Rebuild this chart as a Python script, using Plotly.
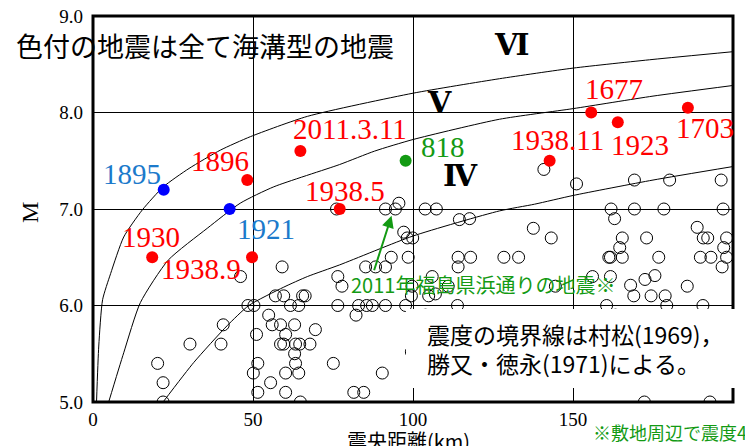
import plotly.graph_objects as go

# open circles: other earthquakes (epicentral distance km, magnitude)
circle_dist = [20.2, 21.9, 21.9, 30.3, 40.0, 40.7, 46.1, 48.4, 50.3, 51.1, 51.5, 50.1, 51.5,
               54.9, 55.5, 56.0, 57.0, 58.6, 58.6, 59.1, 59.6, 59.6, 60.2, 60.2, 60.2, 61.7,
               63.0, 63.0, 63.3, 63.3, 64.3, 64.3, 64.6, 64.8, 65.5, 66.3, 67.8, 69.5, 75.1,
               76.5, 76.5, 77.8, 76.1, 82.2, 83.0, 85.5, 87.3, 91.4, 97.7, 81.5, 84.6, 90.4,
               85.2, 88.3, 91.4, 93.2, 98.5, 91.4, 94.5, 95.6, 97.1, 98.2, 99.9, 103.8, 107.3,
               114.5, 117.7, 114.1, 118.0, 114.1, 128.4, 133.0, 137.6, 140.9, 143.2, 144.5,
               113.9, 99.5, 99.7, 106.0, 107.0, 111.0, 99.5, 103.9, 104.9, 163.3,
               151.1, 169.2, 180.2, 196.3, 161.9, 169.2, 178.4, 196.9, 163.0, 188.8, 165.4,
               173.0, 190.7, 192.1, 198.0, 164.6, 197.1, 161.2, 161.7, 165.4, 176.8, 189.8,
               193.1, 198.0, 196.6, 156.1, 161.7, 172.5, 175.6, 168.0, 185.7, 169.0, 174.4,
               178.8, 160.5, 179.3, 190.6, 172.3, 192.8]
circle_mag = [5.4, 5.2, 5.0, 5.6, 5.6, 5.8, 6.3, 6.0, 6.0, 5.7, 5.4, 5.3, 5.1,
              5.9, 5.2, 5.8, 6.1, 5.8, 5.6, 6.4, 6.1, 5.6, 5.7, 5.3, 5.1, 6.0,
              5.8, 5.5, 5.6, 5.4, 6.0, 5.3, 5.6, 5.0, 6.1, 6.1, 5.6, 5.75, 5.4,
              6.3, 6.0, 6.2, 7.0, 5.9, 6.0, 6.0, 6.0, 6.0, 6.0, 5.1, 5.1, 5.3,
              6.4, 6.4, 6.4, 6.5, 6.5, 7.0, 7.0, 7.06, 6.76, 6.7, 6.7, 7.0, 7.0,
              6.89, 6.9, 6.5, 6.5, 6.4, 6.5, 6.5, 6.8, 7.41, 6.7, 6.2,
              6.0, 6.1, 6.2, 6.3, 6.12, 6.2, 5.52, 5.9, 6.1, 5.9,
              7.26, 7.3, 7.3, 7.3, 7.0, 7.0, 7.0, 7.0, 6.9, 6.81, 6.7,
              6.7, 6.7, 6.7, 6.7, 6.6, 6.6, 6.5, 6.5, 6.5, 6.5, 6.5,
              6.5, 6.5, 6.4, 6.3, 6.3, 6.27, 6.31, 6.21, 6.2, 6.1, 6.1,
              6.1, 6.0, 6.0, 6.0, 5.0, 5.0]

# coloured: trench-type earthquakes
event_names = ["1896", "1930", "1938.9", "2011.3.11", "1938.5", "1938.11", "1677", "1923", "1703",
               "1895", "1921", "818"]
event_dist = [48.2, 18.5, 49.7, 64.8, 77.1, 142.7, 155.7, 164.0, 185.9, 22.1, 42.7, 97.7]
event_mag = [7.3, 6.5, 6.5, 7.6, 7.0, 7.5, 8.0, 7.9, 8.05, 7.2, 7.0, 7.5]
event_color = ["#ff0000"] * 9 + ["#0000ff", "#0000ff", "#139a13"]
label_color = ["#ff0000"] * 9 + ["#1c7acb", "#1c7acb", "#139a13"]
label_x = [39.8, 18.0, 33.9, 80.2, 78.6, 145.2, 162.7, 170.8, 191.4, 12.3, 54.2, 109.5]
label_y = [7.50, 6.71, 6.38, 7.83, 7.19, 7.72, 8.24, 7.66, 7.84, 7.36, 6.79, 7.64]

# intensity boundary curves (Muramatsu / Katsumata-Tokunaga)
vi_dist = [1.1, 1.8, 3.0, 5.5, 9.6, 15.4, 22.0, 30.0, 39.8, 49.2, 67.0, 100.0, 127.0, 150.0, 175.0, 200.0]
vi_mag = [5.0, 5.58, 6.06, 6.33, 6.71, 6.99, 7.23, 7.42, 7.61, 7.75, 7.96, 8.2, 8.35, 8.46, 8.55, 8.63]
v_dist = [4.9, 9.6, 14.8, 23.5, 35.7, 46.0, 56.5, 77.0, 88.0, 100.0, 127.0, 150.0, 175.0, 200.0]
v_mag = [5.0, 5.51, 6.03, 6.47, 6.8, 7.06, 7.23, 7.46, 7.6, 7.72, 7.93, 8.04, 8.17, 8.28]
iv_dist = [21.9, 31.5, 41.9, 48.7, 59.6, 67.0, 77.0, 100.0, 127.0, 138.0, 150.0, 175.0, 200.0]
iv_mag = [5.0, 5.41, 5.79, 6.0, 6.19, 6.3, 6.42, 6.72, 6.98, 7.05, 7.14, 7.3, 7.44]

x_ticks = [0, 50, 100, 150, 200]
y_ticks = [5, 6, 7, 8, 9]
y_ticktext = ["5.0", "6.0", "7.0", "8.0", "9.0"]

SERIF = "Liberation Serif"
CJK = "Noto Sans CJK JP"
GREEN = "#139a13"


def px_note(fig, px, py, text, size, color, family=CJK, xanchor="left", angle=0):
    """Text placed by window pixel (plot area spans x 93-733, y 16-402)."""
    fig.add_annotation(xref="paper", yref="paper", x=(px - 93) / 640, y=(402 - py) / 386,
                       xanchor=xanchor, yanchor="middle", text=text, textangle=angle,
                       showarrow=False, font=dict(family=family, size=size, color=color))


fig = go.Figure()
for xs, ys in [(vi_dist, vi_mag), (v_dist, v_mag), (iv_dist, iv_mag)]:
    fig.add_trace(go.Scatter(x=xs, y=ys, mode="lines",
                             line=dict(color="black", width=1, shape="spline", smoothing=0.6),
                             hoverinfo="skip"))

fig.add_trace(go.Scatter(x=circle_dist, y=circle_mag, mode="markers",
                         marker=dict(symbol="circle-open", size=12, color="black", line=dict(width=1))))
fig.add_trace(go.Scatter(x=event_dist, y=event_mag, mode="markers",
                         marker=dict(size=12, color=event_color)))

for name, lx, ly, c in zip(event_names, label_x, label_y, label_color):
    fig.add_annotation(x=lx, y=ly, text=name, showarrow=False,
                       font=dict(family=SERIF, size=29, color=c))

# intensity region labels
for txt, lx, ly in [("Ⅵ", 131, 8.70), ("Ⅴ", 108.3, 8.10), ("Ⅳ", 114.8, 7.35)]:
    fig.add_annotation(x=lx, y=ly, text="<b>" + txt + "</b>", showarrow=False,
                       font=dict(family="DejaVu Serif, " + CJK, size=30, color="black"))

# 2011 Fukushima Hamadori arrow
fig.add_annotation(x=93.3, y=6.93, ax=87.7, ay=6.35, axref="x", ayref="y", text="",
                   showarrow=True, arrowhead=2, arrowsize=1.2, arrowwidth=2, arrowcolor=GREEN)
px_note(fig, 349, 284, "2011年福島県浜通りの地震※", 20, GREEN)

# frame, then white note box over it
fig.add_shape(type="rect", xref="paper", yref="paper", x0=0, x1=1, y0=0, y1=1,
              line=dict(color="black", width=3), layer="above")
fig.add_shape(type="rect", xref="paper", yref="paper", x0=(406 - 93) / 640, x1=1.03,
              y0=(402 - 388) / 386, y1=(402 - 309) / 386,
              fillcolor="white", line=dict(width=0), layer="above")
px_note(fig, 425, 334, "震度の境界線は村松(1969)，", 23, "black")
px_note(fig, 425, 363, "勝又・徳永(1971)による。", 23, "black")

px_note(fig, 14, 45, "色付の地震は全て海溝型の地震", 27, "black")
px_note(fig, 591, 432, "※敷地周辺で震度4以上を観測した地震", 18, GREEN)
px_note(fig, 408, 441, "震央距離(km)", 20, "black", xanchor="center")
px_note(fig, 30, 213, "M", 24, "black", family=SERIF, xanchor="center", angle=-90)

fig.update_xaxes(range=[0, 200], tickvals=x_ticks, showgrid=True, gridcolor="black", gridwidth=1,
                 showline=False, zeroline=False, automargin=False,
                 ticks="", ticklabelstandoff=4, tickfont=dict(family=SERIF, size=19, color="black"))
fig.update_yaxes(range=[5, 9], tickvals=y_ticks, ticktext=y_ticktext, showgrid=True,
                 gridcolor="black", gridwidth=1, showline=False, zeroline=False, automargin=False,
                 ticks="", ticklabelstandoff=9,
                 tickfont=dict(family=SERIF, size=19, color="black"))
fig.update_layout(width=745, height=446, autosize=False, showlegend=False,
                  margin=dict(l=93, r=12, t=16, b=44),
                  plot_bgcolor="white", paper_bgcolor="white")

# drop the browser's default body margin so the chart sits at the window origin
fig.write_html("out.html", config={"displayModeBar": False},
               post_script="document.body.style.margin='0';")
